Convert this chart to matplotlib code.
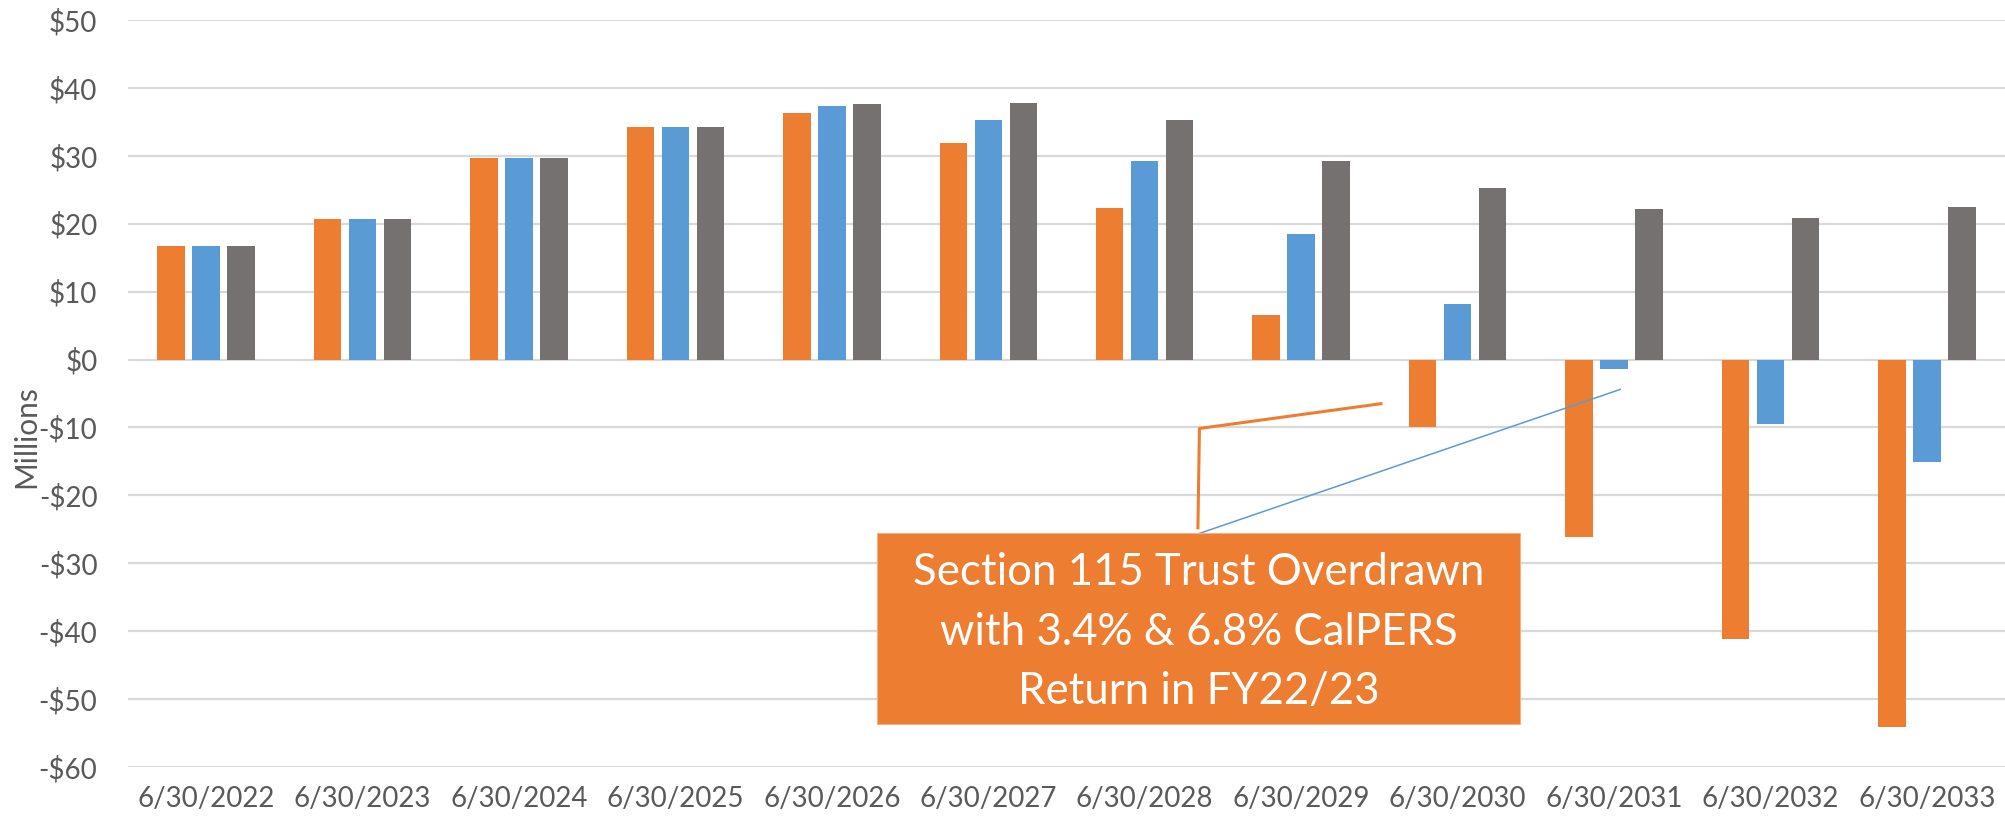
import matplotlib
matplotlib.use("Agg")
import matplotlib.pyplot as plt
from matplotlib.patches import Rectangle
import numpy as np

# ---- data ----
categories = ["6/30/2022", "6/30/2023", "6/30/2024", "6/30/2025", "6/30/2026", "6/30/2027",
              "6/30/2028", "6/30/2029", "6/30/2030", "6/30/2031", "6/30/2032", "6/30/2033"]
series_orange = [16.7, 20.7, 29.7, 34.2, 36.3, 31.9, 22.35, 6.6, -9.9, -26.1, -41.1, -54.1]
series_blue = [16.7, 20.7, 29.7, 34.2, 37.4, 35.3, 29.3, 18.5, 8.2, -1.35, -9.5, -15.1]
series_gray = [16.7, 20.7, 29.7, 34.2, 37.6, 37.8, 35.3, 29.3, 25.3, 22.2, 20.9, 22.45]
y_ticks = [50, 40, 30, 20, 10, 0, -10, -20, -30, -40, -50, -60]
y_tick_labels = ["$50", "$40", "$30", "$20", "$10", "$0", "-$10", "-$20", "-$30", "-$40", "-$50", "-$60"]
callout_text = "Section 115 Trust Overdrawn\nwith 3.4% & 6.8% CalPERS\nReturn in FY22/23"

ORANGE = "#ED7D31"
BLUE = "#5B9BD5"
GRAY = "#767171"
TEXT = "#595959"
GRID = "#D9D9D9"
FONT = ["Lato", "DejaVu Sans"]

plt.rcParams["font.family"] = FONT

W, H = 2005, 825
fig = plt.figure(figsize=(W / 100, H / 100), dpi=100)
left, right, top, bottom = 128, 2005, 20, 767
ax = fig.add_axes([left / W, 1 - bottom / H, (right - left) / W, (bottom - top) / H])

x = np.arange(len(categories))
bw = 0.176
step = 0.2238
ax.bar(x - step, series_orange, width=bw, color=ORANGE, zorder=3)
ax.bar(x, series_blue, width=bw, color=BLUE, zorder=3)
ax.bar(x + step, series_gray, width=bw, color=GRAY, zorder=3)

ax.set_xlim(-0.5, len(categories) - 0.5)
ax.set_ylim(-60, 50)
ax.set_yticks(y_ticks)
ax.set_yticklabels(y_tick_labels)
ax.set_xticks(x)
ax.set_xticklabels(categories)
ax.tick_params(axis="both", length=0, labelsize=20, colors=TEXT)
ax.tick_params(axis="y", pad=22)
ax.tick_params(axis="x", pad=14)
ax.yaxis.grid(True, color=GRID, linewidth=1.6, zorder=0)
ax.set_axisbelow(True)
for s in ax.spines.values():
    s.set_visible(False)

fig.text(26 / W, 1 - 437 / H, "Millions", rotation=90, ha="center", va="center",
         fontsize=21.5, color=TEXT)

# callout box and leader lines
bx0, bx1, by0, by1 = 4.289, 8.400, -53.68, -25.6
ax.add_patch(Rectangle((bx0, by0), bx1 - bx0, by1 - by0, facecolor=ORANGE,
                       edgecolor="#F4B183", linewidth=0.8, zorder=5, clip_on=False))
ax.text((bx0 + bx1) / 2, (by0 + by1) / 2 - 0.5, callout_text, ha="center", va="center",
        color="white", fontsize=31.5, fontweight="normal", linespacing=1.55, zorder=6)
ax.plot([6.34, 6.35, 7.52], [-25.0, -10.15, -6.47], color=ORANGE, linewidth=2.2,
        zorder=4, solid_capstyle="butt")
ax.plot([6.35, 9.04], [-25.6, -4.4], color=BLUE, linewidth=1.1, zorder=4)

fig.savefig("out.png", dpi=100)
